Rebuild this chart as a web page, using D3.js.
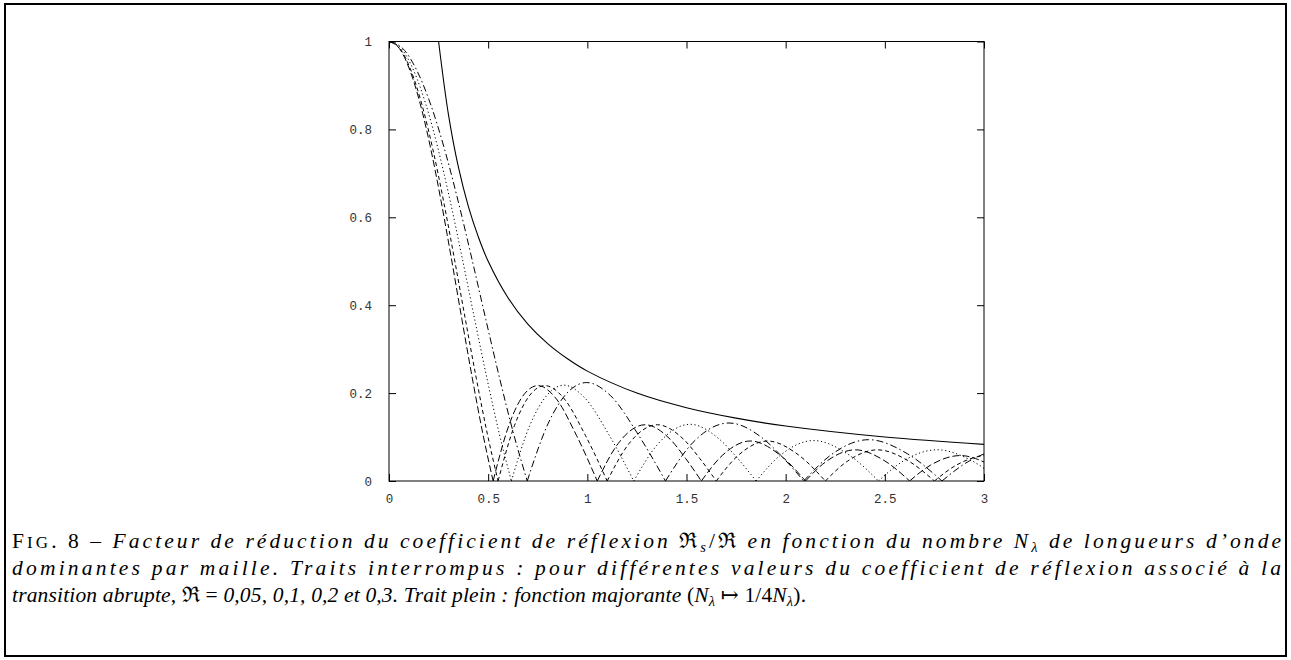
<!DOCTYPE html>
<html><head><meta charset="utf-8">
<script src="https://cdn.jsdelivr.net/npm/d3@7"></script>
<style>
body{margin:0;background:#fff;}
svg{display:block;}
</style></head>
<body>
<svg id="chart" width="1291" height="660"></svg>
<script>
// ---- data ----
const xTicks = [0, 0.5, 1, 1.5, 2, 2.5, 3];
const xTickLabels = ["0", "0.5", "1", "1.5", "2", "2.5", "3"];
const yTicks = [0, 0.2, 0.4, 0.6, 0.8, 1];
const yTickLabels = ["0", "0.2", "0.4", "0.6", "0.8", "1"];

// R = 0.05 (dashed)
const curveA = [[0,1],[0.0525,0.984],[0.105,0.935],[0.1575,0.858],[0.21,0.757],[0.2625,0.637],[0.315,0.505],[0.3675,0.368],[0.42,0.234],[0.4725,0.109],[0.525,0],
  [0.604,0.126],[0.6825,0.198],[0.751,0.217],[0.84,0.189],[0.945,0.104],[1.05,0],
  [1.155,0.085],[1.2915,0.128],[1.4175,0.095],[1.496,0.051],[1.575,0],
  [1.68,0.058],[1.822,0.091],[1.969,0.060],[2.10,0],
  [2.205,0.0446],[2.352,0.0709],[2.494,0.0474],[2.625,0],
  [2.73,0.036],[2.882,0.0579],[3.019,0.039],[3.15,0]];
// R = 0.1 (short dashes)
const curveB = [[0,1],[0.055,0.984],[0.11,0.935],[0.165,0.858],[0.22,0.757],[0.275,0.637],[0.33,0.505],[0.385,0.368],[0.44,0.234],[0.495,0.109],[0.55,0],
  [0.6325,0.126],[0.715,0.198],[0.7865,0.217],[0.88,0.189],[0.99,0.104],[1.10,0],
  [1.21,0.085],[1.353,0.128],[1.485,0.095],[1.5675,0.051],[1.65,0],
  [1.76,0.058],[1.9085,0.091],[2.0625,0.060],[2.20,0],
  [2.31,0.0446],[2.464,0.0709],[2.6125,0.0474],[2.75,0],
  [2.86,0.036],[3.0195,0.0579],[3.1625,0.039],[3.30,0]];
// R = 0.2 (dotted)
const curveC = [[0,1],[0.0617,0.984],[0.1234,0.935],[0.1851,0.858],[0.2468,0.757],[0.3085,0.637],[0.3702,0.505],[0.4319,0.368],[0.4936,0.234],[0.5553,0.109],[0.617,0],
  [0.7096,0.126],[0.8021,0.198],[0.8823,0.218],[0.9872,0.189],[1.1106,0.104],[1.234,0],
  [1.3574,0.085],[1.5178,0.129],[1.6659,0.095],[1.7585,0.051],[1.851,0],
  [1.9744,0.059],[2.141,0.092],[2.3138,0.061],[2.468,0],
  [2.5914,0.045],[2.7642,0.071],[2.9308,0.048],[3.085,0]];
// R = 0.3 (dash-dot)
const curveD = [[0,1],[0.0697,0.984],[0.1394,0.935],[0.2091,0.858],[0.2788,0.757],[0.3485,0.637],[0.4182,0.505],[0.4879,0.368],[0.5576,0.234],[0.6273,0.109],[0.697,0],
  [0.8016,0.130],[0.9061,0.204],[0.9967,0.224],[1.1152,0.195],[1.2546,0.107],[1.394,0],
  [1.5334,0.088],[1.7146,0.132],[1.8819,0.098],[1.9865,0.053],[2.091,0],
  [2.2304,0.060],[2.4186,0.094],[2.6138,0.062],[2.788,0],
  [2.9274,0.046],[3.1226,0.073],[3.31,0.049],[3.485,0]];
// upper bound (solid)
const boundCurve = [[0.25,1],[0.3,0.833],[0.35,0.714],[0.4,0.625],[0.45,0.556],[0.5,0.5],[0.6,0.417],[0.7,0.357],[0.8,0.3125],[0.9,0.278],[1,0.25],[1.25,0.2],[1.5,0.1667],[1.75,0.143],[2,0.125],[2.5,0.1],[3,0.0833]];

const seriesList = [
  {data: curveA, dash: "7,3"},
  {data: curveB, dash: "4,3"},
  {data: curveC, dash: "1.2,2.6"},
  {data: curveD, dash: "7,3,1.5,3"}
];

// ---- drawing ----
const svg = d3.select("#chart");
const plot = {left: 389, right: 984, top: 41.5, bottom: 481};

svg.append("rect").attr("x", 5).attr("y", 4).attr("width", 1281).attr("height", 652)
  .attr("fill", "none").attr("stroke", "#000").attr("stroke-width", 2);

const x = d3.scaleLinear().domain([0, 3]).range([plot.left, plot.right]);
const y = d3.scaleLinear().domain([0, 1]).range([plot.bottom, plot.top]);

svg.append("clipPath").attr("id", "clip").append("rect")
  .attr("x", plot.left).attr("y", plot.top)
  .attr("width", plot.right - plot.left).attr("height", plot.bottom - plot.top);

const tickLen = 7;
const labelFont = "'Liberation Mono', 'DejaVu Sans Mono', monospace";

const axB = d3.axisBottom(x).tickValues(xTicks).tickSize(-tickLen).tickPadding(13)
  .tickFormat((d, i) => xTickLabels[i]);
const axT = d3.axisTop(x).tickValues(xTicks).tickSize(-tickLen).tickFormat("");
const axL = d3.axisLeft(y).tickValues(yTicks).tickSize(-tickLen).tickPadding(17)
  .tickFormat((d, i) => yTickLabels[i]);
const axR = d3.axisRight(y).tickValues(yTicks).tickSize(-tickLen).tickFormat("");

function styleAxis(g) {
  g.select(".domain").remove();
  g.selectAll(".tick line").attr("stroke", "#000").attr("stroke-width", 1);
  g.selectAll(".tick text").attr("fill", "#333").style("font-family", labelFont).style("font-size", "12.5px");
}
svg.append("g").attr("transform", `translate(0,${plot.bottom})`).call(axB).call(styleAxis);
svg.append("g").attr("transform", `translate(0,${plot.top})`).call(axT).call(styleAxis);
svg.append("g").attr("transform", `translate(${plot.left},0)`).call(axL).call(styleAxis);
svg.append("g").attr("transform", `translate(${plot.right},0)`).call(axR).call(styleAxis);

const line = d3.line().x(d => x(d[0])).y(d => y(d[1])).curve(d3.curveMonotoneX);
function arches(pts) {
  const out = []; let cur = [pts[0]];
  for (let i = 1; i < pts.length; i++) {
    cur.push(pts[i]);
    if (pts[i][1] === 0 && i < pts.length - 1) { out.push(cur); cur = [pts[i]]; }
  }
  if (cur.length > 1) out.push(cur);
  return out;
}
const gLines = svg.append("g").attr("clip-path", "url(#clip)");
seriesList.forEach(s => {
  gLines.append("path").attr("d", arches(s.data).map(a => line(a)).join(""))
    .attr("fill", "none").attr("stroke", "#000").attr("stroke-width", 1)
    .attr("stroke-dasharray", s.dash);
});
gLines.append("path").datum(boundCurve)
  .attr("d", d3.line().x(d => x(d[0])).y(d => y(d[1])).curve(d3.curveCatmullRom))
  .attr("fill", "none").attr("stroke", "#000").attr("stroke-width", 1.1);

svg.append("rect").attr("x", plot.left).attr("y", plot.top)
  .attr("width", plot.right - plot.left).attr("height", plot.bottom - plot.top)
  .attr("fill", "none").attr("stroke", "#000").attr("stroke-width", 1);

// ---- caption ----
const capFont = "'Liberation Serif', 'DejaVu Serif', serif";
const capSize = 21.5;
const subSize = 14.5;
const capLeft = 12;
function capLine(yb, parts, width) {
  const t = svg.append("text").attr("x", capLeft).attr("y", yb)
    .style("font-family", capFont).style("font-size", capSize + "px").attr("fill", "#000");
  parts.forEach(p => {
    const ts = t.append("tspan").text(p.t);
    ts.style("font-style", p.it === false ? "normal" : "italic");
    if (p.size) ts.style("font-size", p.size + "px");
    if (p.dy) ts.attr("dy", p.dy);
  });
  t.attr("textLength", width).attr("lengthAdjust", "spacing");
  return t;
}
capLine(548, [
  {t: "F", it: false}, {t: "IG", it: false, size: 17}, {t: ". 8 – ", it: false},
  {t: "Facteur de réduction du coefficient de réflexion "},
  {t: "ℜ", it: false}, {t: "s", size: subSize, dy: 4}, {t: "/", it: false, dy: -4}, {t: "ℜ", it: false},
  {t: " en fonction du nombre N"}, {t: "λ", size: subSize, dy: 4}, {t: " de longueurs d’onde", dy: -4}
], 1269);
capLine(575, [
  {t: "dominantes par maille. Traits interrompus : pour différentes valeurs du coefficient de réflexion associé à la"}
], 1269);
capLine(602, [
  {t: "transition abrupte, "}, {t: "ℜ = ", it: false},
  {t: "0,05, 0,1, 0,2 et 0,3. Trait plein : fonction majorante "},
  {t: "(", it: false}, {t: "N"}, {t: "λ", size: subSize, dy: 4}, {t: " ↦ 1/4", it: false, dy: -4},
  {t: "N"}, {t: "λ", size: subSize, dy: 4}, {t: ").", it: false, dy: -4}
], 794);
</script>
</body></html>
